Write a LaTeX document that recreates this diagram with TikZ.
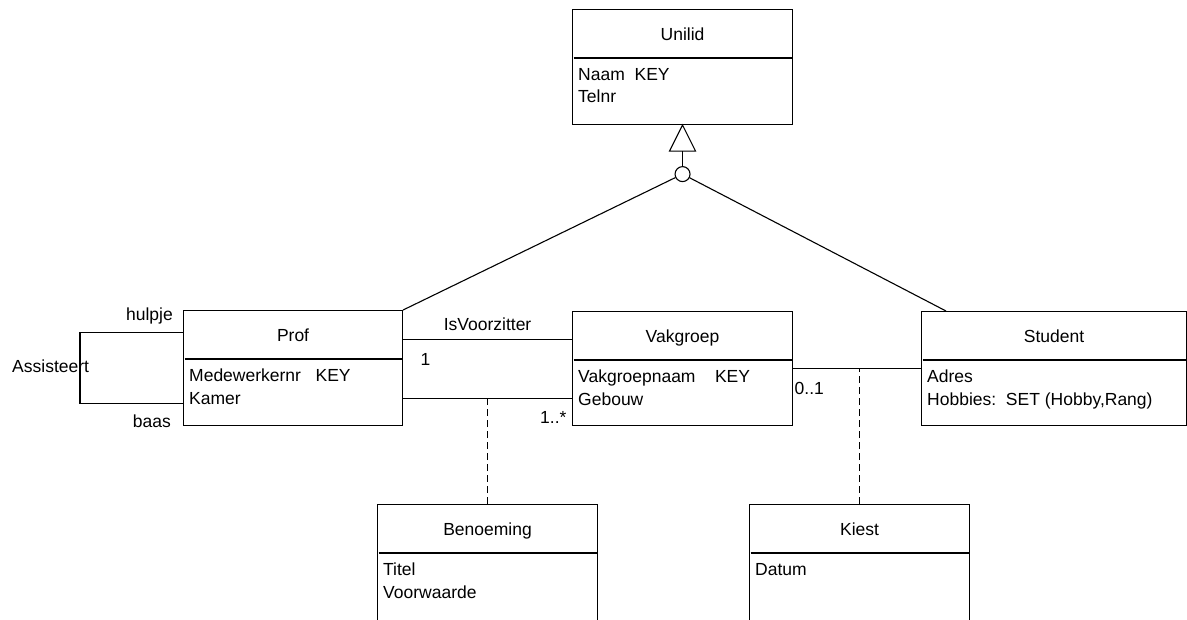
\documentclass[tikz,border=0pt]{standalone}
\usepackage{fontspec}
\setmainfont{Liberation Sans}
\usetikzlibrary{calc,positioning}

\tikzset{
  umlbox/.style={draw, line width=1.1pt, rectangle, anchor=north west, inner sep=0pt},
  attr/.style={anchor=north west, inner sep=0pt, align=left},
  lbl/.style={inner sep=0pt},
  link/.style={line width=1.1pt},
  dashlink/.style={line width=1.1pt, dash pattern=on 7pt off 4pt},
}

\begin{document}
\begin{tikzpicture}[x=1pt, y=-1pt, font=\fontsize{17.5}{22.5}\selectfont]
  \useasboundingbox (0,0) rectangle (1187,619);
  \clip (0,0) rectangle (1187,619);
  % classes
  \foreach \n/\x/\y/\w/\h/\t in {uni/572/9/220/115/Unilid, prof/183/310/219/115/Prof,
      vak/572/311/220/114/Vakgroep, stud/921/311/265/114/Student,
      ben/377/504/220/130/Benoeming, kiest/749/504/220/130/Kiest}{
    \node[umlbox, minimum width=\w, minimum height=\h] (\n) at (\x,\y) {};
    \node[lbl, anchor=base] (\n-title) at ([yshift=-31pt]\n.north) {\t};
    \draw[link] ([xshift=1.5pt,yshift=-49pt]\n.north west) -- ([xshift=-1.5pt,yshift=-49pt]\n.north east);
  }
  \node[attr] (uni-attr) at ([xshift=6pt,yshift=-59pt]uni.north west) {Naam\ \ KEY\\Telnr};
  \node[attr] (prof-attr) at ([xshift=6pt,yshift=-59pt]prof.north west) {Medewerkernr\ \ \ KEY\\Kamer};
  \node[attr] (vak-attr) at ([xshift=6pt,yshift=-59pt]vak.north west) {Vakgroepnaam\ \ \ \ KEY\\Gebouw};
  \node[attr] (stud-attr) at ([xshift=6pt,yshift=-59pt]stud.north west) {Adres\\Hobbies:\ \ SET (Hobby,Rang)};
  \node[attr] (ben-attr) at ([xshift=6pt,yshift=-59pt]ben.north west) {Titel\\Voorwaarde};
  \node[attr] (kiest-attr) at ([xshift=6pt,yshift=-59pt]kiest.north west) {Datum};

  % generalisation
  \coordinate (tribase) at ([yshift=-26pt]uni.south);
  \draw[link, fill=white] (uni.south) -- ([xshift=-13pt]tribase) -- ([xshift=13pt]tribase) -- cycle;
  \node[draw, circle, line width=1.1pt, fill=white, minimum size=15pt, inner sep=0pt] (gen) at ([yshift=-23pt]tribase) {};
  \draw[link] (tribase) -- (gen);
  \draw[link] (gen) -- (prof.north east);
  \draw[link] (gen) -- ([xshift=25pt]stud.north west);

  % associations
  \coordinate (vz-a) at ([yshift=28.5pt]prof.east);
  \draw[link] (vz-a) -- (vz-a -| vak.west)
    node[lbl, midway, anchor=base, yshift=9pt] (isv) {IsVoorzitter}
    node[lbl, pos=0, anchor=base west, xshift=17pt, yshift=-26pt] (card-one) {1};
  \coordinate (ben-a) at ([yshift=-30.5pt]prof.east);
  \draw[link] (ben-a) -- (ben-a -| vak.west)
    node[lbl, pos=1, anchor=base east, xshift=-5pt, yshift=-25pt] (card-many) {1..*};
  \draw[dashlink] (ben.north) -- (ben.north |- ben-a);
  \draw[link] (vak.east) -- (stud.west)
    node[lbl, pos=0, anchor=base west, xshift=1pt, yshift=-26pt] (card-opt) {0..1};
  \draw[dashlink] (kiest.north) -- (kiest.north |- vak.east);

  % Assisteert
  \draw[link] ([yshift=35.5pt]prof.west) -- ++(-103,0) |- ([yshift=-35.5pt]prof.west);
  \node[lbl, anchor=base east] (hulpje) at ([xshift=-10pt,yshift=-10pt]prof.north west) {hulpje};
  \node[lbl, anchor=base east] (baas) at ([xshift=-12pt,yshift=-1pt]prof.south west) {baas};
  \node[lbl, anchor=base west] (assist) at ([xshift=-171pt,yshift=-4.5pt]prof.west) {Assisteert};
\end{tikzpicture}
\end{document}
